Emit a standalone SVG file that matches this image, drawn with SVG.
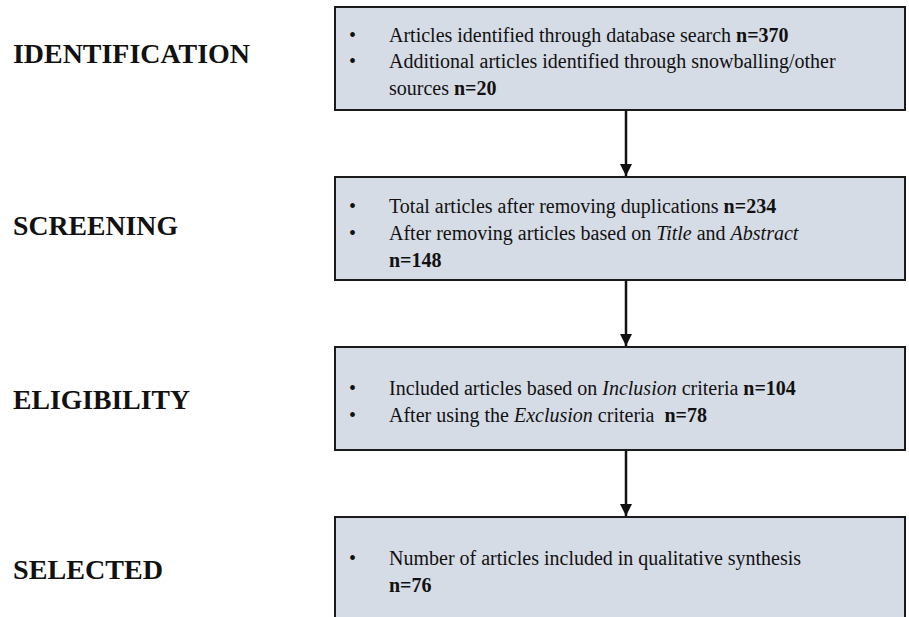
<svg xmlns="http://www.w3.org/2000/svg" width="909" height="617" viewBox="0 0 909 617">
  <style>
    .box { fill: #d6dce5; stroke: #1a1a1a; stroke-width: 2; }
    .stage { font-family: "Liberation Serif", "Times New Roman", serif; font-weight: bold; font-size: 27px; fill: #111; }
    .item { font-family: "Liberation Serif", "Times New Roman", serif; font-size: 20px; fill: #111; }
    .b { font-weight: bold; }
    .i { font-style: italic; }
    .link { stroke: #111; stroke-width: 2.5; fill: none; marker-end: url(#head); }
  </style>
  <defs>
    <marker id="head" markerWidth="13" markerHeight="12" refX="10" refY="5" orient="auto" markerUnits="userSpaceOnUse" viewBox="0 0 10 10">
      <path d="M0,0 L10,5 L0,10 Z" fill="#111"/>
    </marker>
  </defs>

  <!-- Stage labels -->
  <g id="labels">
    <text class="stage" x="13" y="63" textLength="237" lengthAdjust="spacingAndGlyphs">IDENTIFICATION</text>
    <text class="stage" x="13" y="235" textLength="165" lengthAdjust="spacingAndGlyphs">SCREENING</text>
    <text class="stage" x="13" y="409" textLength="177" lengthAdjust="spacingAndGlyphs">ELIGIBILITY</text>
    <text class="stage" x="13" y="579" textLength="150" lengthAdjust="spacingAndGlyphs">SELECTED</text>
  </g>

  <!-- Connectors -->
  <g id="connectors">
    <line class="link" x1="626" y1="111" x2="626" y2="176"/>
    <line class="link" x1="626" y1="281" x2="626" y2="346"/>
    <line class="link" x1="626" y1="451" x2="626" y2="516"/>
  </g>

  <g id="identification">
    <rect class="box" x="335" y="7" width="570" height="103"/>
    <text class="item" x="349" y="42">•</text>
    <text class="item" x="349" y="68">•</text>
    <text class="item" x="389" y="42">Articles identified through database search <tspan class="b">n=370</tspan></text>
    <text class="item" x="389" y="68">Additional articles identified through snowballing/other</text>
    <text class="item" x="389" y="95">sources <tspan class="b">n=20</tspan></text>
  </g>

  <g id="screening">
    <rect class="box" x="335" y="177" width="570" height="103"/>
    <text class="item" x="349" y="213">•</text>
    <text class="item" x="349" y="240">•</text>
    <text class="item" x="389" y="213">Total articles after removing duplications <tspan class="b">n=234</tspan></text>
    <text class="item" x="389" y="240">After removing articles based on <tspan class="i">Title</tspan> and <tspan class="i">Abstract</tspan></text>
    <text class="item b" x="389" y="267">n=148</text>
  </g>

  <g id="eligibility">
    <rect class="box" x="335" y="347" width="570" height="103"/>
    <text class="item" x="349" y="395">•</text>
    <text class="item" x="349" y="422">•</text>
    <text class="item" x="389" y="395">Included articles based on <tspan class="i">Inclusion</tspan> criteria <tspan class="b">n=104</tspan></text>
    <text class="item" x="389" y="422">After using the <tspan class="i">Exclusion</tspan> criteria <tspan class="b" dx="5">n=78</tspan></text>
  </g>

  <g id="selected">
    <rect class="box" x="335" y="517" width="570" height="110"/>
    <text class="item" x="349" y="565">•</text>
    <text class="item" x="389" y="565">Number of articles included in qualitative synthesis</text>
    <text class="item b" x="389" y="592">n=76</text>
  </g>
</svg>
